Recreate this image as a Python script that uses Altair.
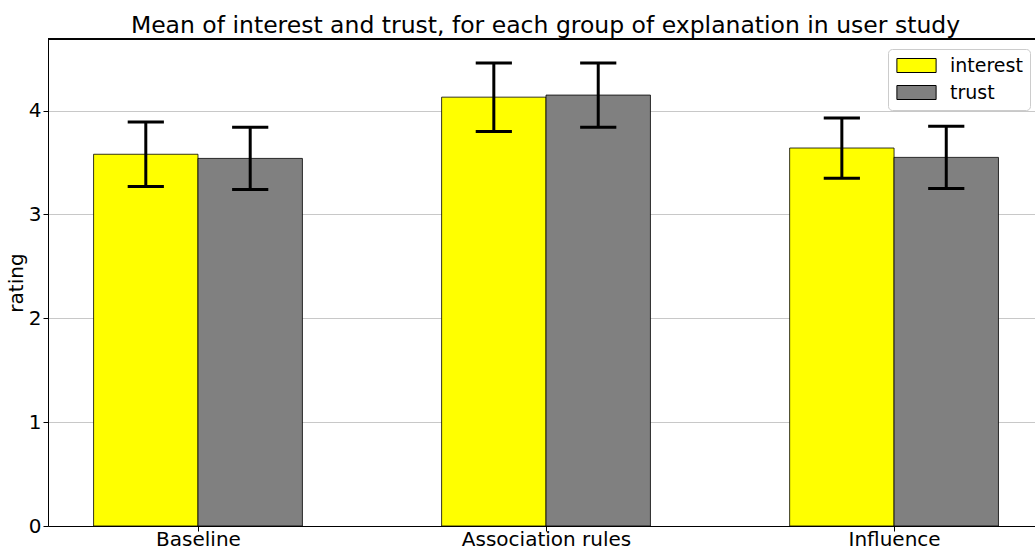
import altair as alt
import pandas as pd

# Mean ratings per explanation group, with their error margins
groups = ["Baseline", "Association rules", "Influence"]
measures = ["interest", "trust"]
interest_mean = [3.58, 4.13, 3.64]
trust_mean = [3.54, 4.15, 3.55]
interest_err = [0.31, 0.33, 0.29]
trust_err = [0.30, 0.31, 0.30]
bar_colors = ["#ffff00", "#808080"]

BAR_W = 0.3      # bar width in group units
CAP_HALF = 0.052  # half-width of error bar caps in group units
FONT = "DejaVu Sans"

rows = []
for i, g in enumerate(groups):
    for j, (m, means, errs) in enumerate(
        zip(measures, [interest_mean, trust_mean], [interest_err, trust_err])
    ):
        center = i + (j - 0.5) * BAR_W
        rows.append(
            dict(
                group=g,
                measure=m,
                mean=means[i],
                base=0.0,
                lo=means[i] - errs[i],
                hi=means[i] + errs[i],
                x0=center - BAR_W / 2,
                x1=center + BAR_W / 2,
                xc=center,
                c0=center - CAP_HALF,
                c1=center + CAP_HALF,
            )
        )
df = pd.DataFrame(rows)

W, H = 987, 487
x_scale = alt.Scale(domain=[-0.431, 2.405], nice=False, zero=False)
y_scale = alt.Scale(domain=[0, 4.69], nice=False)

label_expr = "[" + ",".join(f"'{g}'" for g in groups) + "][datum.value]"

bars = alt.Chart().mark_bar(stroke="black", strokeWidth=0.8).encode(
    x=alt.X(
        "x0:Q",
        scale=x_scale,
        axis=alt.Axis(
            values=[0, 1, 2], labelExpr=label_expr, title=None, grid=False,
            labelPadding=-2,
        ),
    ),
    x2="x1:Q",
    y=alt.Y(
        "mean:Q",
        scale=y_scale,
        axis=alt.Axis(values=[0, 1, 2, 3, 4], format="d", title="rating", grid=True),
    ),
    y2="base:Q",
    color=alt.Color(
        "measure:N",
        scale=alt.Scale(domain=measures, range=bar_colors),
        legend=alt.Legend(
            title=None,
            orient="none",
            legendX=840,
            legendY=10,
        ),
    ),
)

err = alt.Chart().mark_rule(color="black", strokeWidth=3).encode(
    x="xc:Q", y="lo:Q", y2="hi:Q"
)
cap_hi = alt.Chart().mark_rule(color="black", strokeWidth=3).encode(
    x="c0:Q", x2="c1:Q", y="hi:Q"
)
cap_lo = alt.Chart().mark_rule(color="black", strokeWidth=3).encode(
    x="c0:Q", x2="c1:Q", y="lo:Q"
)
top_spine = alt.Chart().mark_rule(color="black", strokeWidth=1).encode(
    x=alt.value(0), x2=alt.value(W), y=alt.value(0)
)

chart = (
    alt.layer(bars, err, cap_hi, cap_lo, top_spine, data=df)
    .properties(
        width=W,
        height=H,
        autosize="none",
        padding={"left": 48, "top": 39, "right": 0, "bottom": 21},
        title=alt.TitleParams(
            "Mean of interest and trust, for each group of explanation in user study",
            font=FONT,
            fontSize=23.5,
            fontWeight="normal",
            color="black",
            anchor="middle",
            baseline="alphabetic",
            offset=6,
            dx=4,
            dy=24,
        ),
    )
    .configure_view(stroke=None)
    .configure_axis(
        labelFont=FONT,
        labelFontSize=20,
        labelColor="black",
        titleFont=FONT,
        titleFontSize=20,
        titleFontWeight="normal",
        titleColor="black",
        domainColor="black",
        domainWidth=1,
        tickColor="black",
        tickSize=5,
        labelPadding=2,
        gridColor="#c8c8c8",
        gridWidth=1,
    )
    .configure_axisY(titlePadding=2)
    .configure_legend(
        padding=7,
        strokeColor="#cccccc",
        fillColor="white",
        cornerRadius=4,
        symbolType="M-2.8,-1H2.8V1H-2.8Z",
        symbolSize=196,
        symbolOffset=12,
        symbolStrokeColor="black",
        symbolStrokeWidth=1,
        symbolOpacity=1,
        labelFont=FONT,
        labelFontSize=19,
        labelColor="black",
        labelOffset=24,
        rowPadding=7,
    )
)

chart.save("out.html", embed_options={"renderer": "svg", "actions": False})
